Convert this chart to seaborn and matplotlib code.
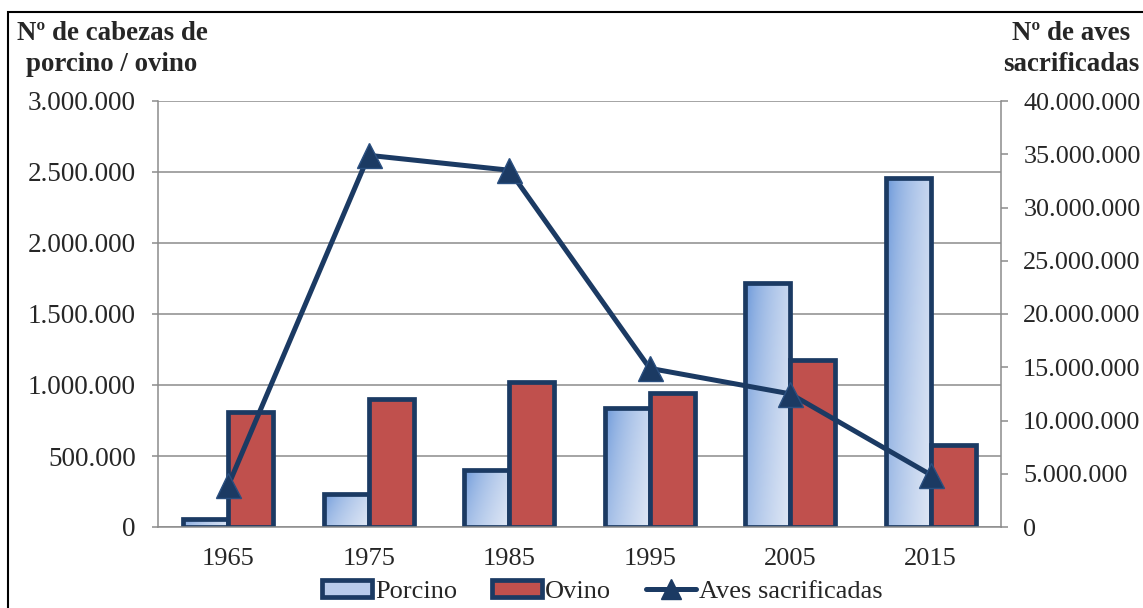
import numpy as np
import pandas as pd
import matplotlib
matplotlib.use("Agg")
import matplotlib.pyplot as plt
import seaborn as sns
from matplotlib.patches import Patch, Rectangle
from matplotlib.lines import Line2D
from matplotlib.colors import to_rgb

# datos
years = ["1965", "1975", "1985", "1995", "2005", "2015"]
porcino = [55000, 235000, 400000, 840000, 1715000, 2460000]
ovino = [810000, 900000, 1020000, 945000, 1175000, 580000]
aves = [3900000, 34900000, 33500000, 14900000, 12500000, 4900000]

navy = "#1B3A63"
red = "#C0504D"
grid_gray = "#8C8C8C"

sns.set_style("white")
plt.rcParams["font.family"] = ["Liberation Serif", "DejaVu Serif"]

df = pd.DataFrame({
    "Año": years * 2,
    "Cabezas": porcino + ovino,
    "Especie": ["Porcino"] * len(years) + ["Ovino"] * len(years),
})

fig = plt.figure(figsize=(11.43, 6.08), dpi=100)
ax = fig.add_axes([158 / 1143, 1 - 527 / 608, 843 / 1143, 426 / 608])

sns.barplot(data=df, x="Año", y="Cabezas", hue="Especie",
            palette={"Porcino": "#C9D7EE", "Ovino": red}, saturation=1,
            width=0.64, edgecolor=navy, linewidth=3.4, ax=ax, legend=False,
            zorder=2)

# degradado azul en las barras de porcino
dark = np.array(to_rgb("#5B8DD6"))
light = np.array(to_rgb("#DFE7F5"))
u, v = np.meshgrid(np.linspace(0, 1, 60), np.linspace(0, 1, 60))
s = np.clip(0.7 * u + 0.3 * (1 - v), 0, 1) ** 0.55
grad = dark + (light - dark) * s[..., None]
for bar in ax.containers[0]:
    x0, y0 = bar.get_xy()
    w, h = bar.get_width(), bar.get_height()
    im = ax.imshow(grad, extent=[x0, x0 + w, y0, y0 + h], origin="lower",
                   aspect="auto", zorder=1.9, interpolation="bilinear")
    im.set_clip_path(bar)
    bar.set_facecolor("none")

ax.set_xlim(-0.5, 5.5)
ax.set_ylim(0, 3000000)
ax.set_yticks(np.arange(0, 3000001, 500000))
ax.set_yticklabels([f"{int(t):,}".replace(",", ".") for t in ax.get_yticks()])
ax.set_xlabel("")
ax.set_ylabel("")
ax.grid(axis="y", color=grid_gray, linewidth=1.1)
ax.grid(axis="x", visible=False)
ax.set_axisbelow(True)
for side in ["top", "right"]:
    ax.spines[side].set_visible(False)
for side in ["left", "bottom"]:
    ax.spines[side].set_color(grid_gray)
    ax.spines[side].set_linewidth(1.1)
ax.set_xticks(np.arange(-0.5, 6, 1), minor=True)
ax.tick_params(axis="x", which="major", length=0, pad=15, labelsize=19)
ax.tick_params(axis="x", which="minor", length=5, width=1.1, color=grid_gray, direction="out")
ax.tick_params(axis="y", length=4, width=1.1, color=grid_gray, pad=12, labelsize=19.5, left=True)

ax2 = ax.twinx()
ax2.plot(years, aves, color=navy, linewidth=3.6, marker="^", markersize=18,
         markerfacecolor=navy, markeredgecolor="#2A4F80", markeredgewidth=1)
ax2.set_ylim(0, 40000000)
ax2.set_yticks(np.arange(0, 40000001, 5000000))
ax2.set_yticklabels([f"{int(t):,}".replace(",", ".") for t in ax2.get_yticks()])
ax2.set_xlim(-0.5, 5.5)
for side in ["top", "left", "bottom"]:
    ax2.spines[side].set_visible(False)
ax2.spines["right"].set_color(grid_gray)
ax2.spines["right"].set_linewidth(1.1)
ax2.tick_params(axis="y", length=5, width=1.1, color=grid_gray, pad=11, labelsize=18.8, right=True)
ax2.grid(False)

fig.text(112 / 1143, 1 - 49 / 608, "Nº de cabezas de\nporcino / ovino", ha="center", va="center",
         fontsize=19.4, fontweight="bold", linespacing=1.32)
fig.text(1071 / 1143, 1 - 49 / 608, "Nº de aves\nsacrificadas", ha="center", va="center",
         fontsize=19.4, fontweight="bold", linespacing=1.32)

handles = [
    Patch(facecolor="#B8CBEB", edgecolor=navy, linewidth=3.4, label="Porcino"),
    Patch(facecolor=red, edgecolor=navy, linewidth=3.4, label="Ovino"),
    Line2D([], [], color=navy, linewidth=3.6, marker="^", markersize=14,
           markerfacecolor=navy, label="Aves sacrificadas"),
]
fig.legend(handles=handles, loc="center", bbox_to_anchor=(0.527, 0.027), ncol=3,
           frameon=False, fontsize=19, handlelength=1.9, handleheight=0.6,
           handletextpad=0.12, columnspacing=1.3, borderaxespad=0)

fig.patches.append(Rectangle((7.5 / 1143, -0.2), 1.2, 0.2 + (1 - 11.5 / 608),
                             transform=fig.transFigure, fill=False,
                             edgecolor="black", linewidth=1.5))

fig.savefig("out.png", dpi=100)
